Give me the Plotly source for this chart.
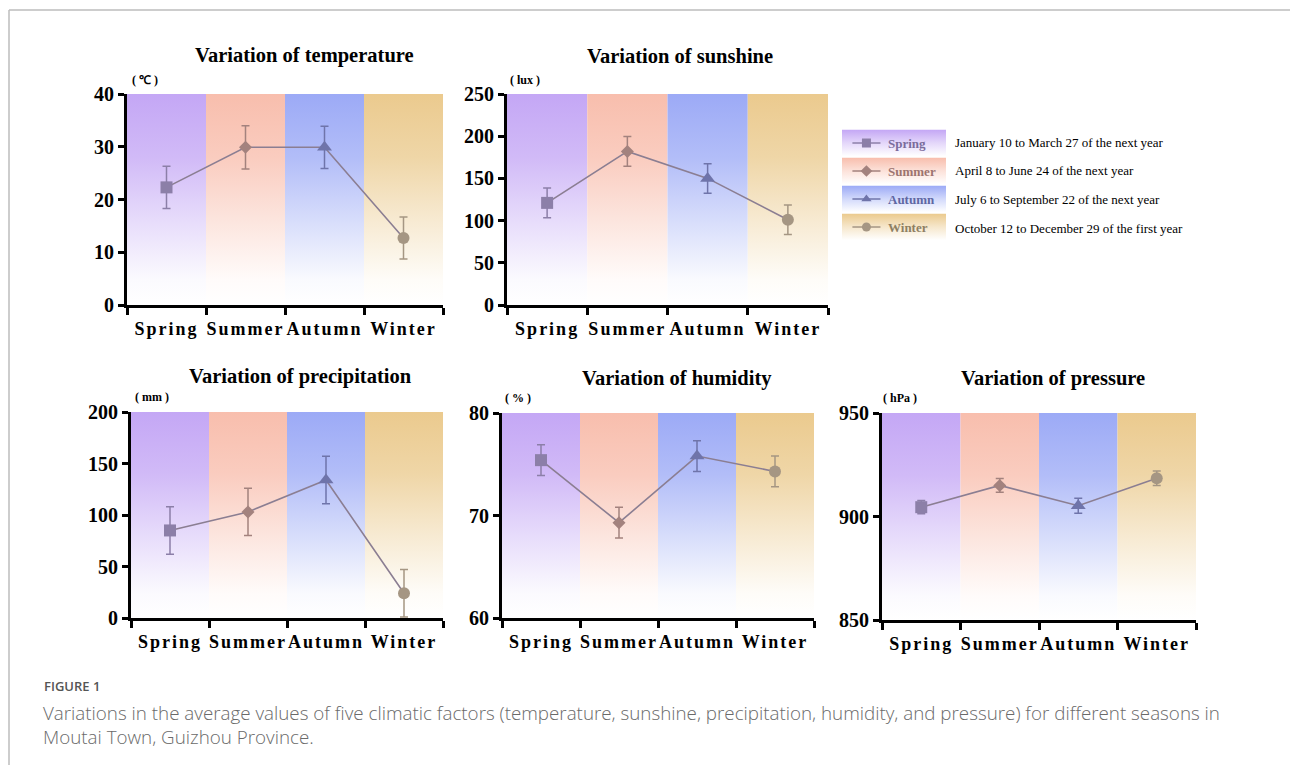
import plotly.graph_objects as go

# ---------------- data ----------------
seasons = ["Spring", "Summer", "Autumn", "Winter"]
season_ranges = [
    "January 10 to March 27 of the next year",
    "April 8 to June 24 of the next year",
    "July 6 to September 22 of the next year",
    "October 12 to December 29 of the first year",
]

temperature = [22.3, 29.9, 29.9, 12.7]
temperature_err = [4.0, 4.1, 4.0, 4.0]
sunshine = [121, 182, 150, 101]
sunshine_err = [17.5, 17.5, 17.5, 17.5]
precipitation = [85, 103, 134, 24]
precipitation_err = [23, 23, 23, 23]
humidity = [75.4, 69.3, 75.8, 74.3]
humidity_err = [1.5, 1.5, 1.5, 1.5]
pressure = [904.5, 915.0, 905.2, 918.5]
pressure_err = [3.2, 3.3, 3.6, 3.5]

panel_titles = ["Variation of temperature", "Variation of sunshine",
                "Variation of precipitation", "Variation of humidity",
                "Variation of pressure"]
units = ["( ℃ )", "( lux )", "( mm )", "( % )", "( hPa )"]
y_ranges = [(0, 40), (0, 250), (0, 200), (60, 80), (850, 950)]
y_dticks = [10, 50, 50, 10, 50]

caption_label = "FIGURE 1"
caption_lines = [
    "Variations in the average values of five climatic factors (temperature, sunshine, precipitation, humidity, and pressure) for different seasons in",
    "Moutai Town, Guizhou Province.",
]

# ---------------- styles ----------------
W, H = 1290, 765
band_colors = ["#C4A7F5", "#F8BEAD", "#9CAAF6", "#EBCA8E"]
marker_colors = ["#8C7FA8", "#A3827E", "#6F74AA", "#A59683"]
label_colors = ["#7B6C9C", "#9C7470", "#5F67A3", "#8E7F62"]
symbols = ["square", "diamond", "triangle-up", "circle"]
msizes = [12, 10, 13, 12]
line_color = "#8B7E92"
SERIF = "Liberation Serif"


def px(x):
    return x / W


def py(y):
    return 1 - y / H


def mix(c, t):
    c = c.lstrip("#")
    r, g, b = int(c[0:2], 16), int(c[2:4], 16), int(c[4:6], 16)
    return "rgb(%d,%d,%d)" % (round(255 + (r - 255) * t), round(255 + (g - 255) * t), round(255 + (b - 255) * t))


def grad(c):
    return [[0, mix(c, 0.0)], [0.12, mix(c, 0.06)], [0.4, mix(c, 0.4)],
            [0.7, mix(c, 0.78)], [1, mix(c, 1.0)]]


# panel pixel boxes (left, right, top, bottom)
boxes = [(127, 443, 94, 305), (507, 828, 94, 305),
         (131, 443, 412, 618), (502, 814, 413, 618), (882, 1196, 413, 620)]
title_pos = [(304, 56), (680, 56), (300, 376), (677, 378), (1053, 378)]
unit_pos = [(145, 80), (525, 80), (152, 397), (518, 398), (900, 398)]

series = [(temperature, temperature_err), (sunshine, sunshine_err),
          (precipitation, precipitation_err), (humidity, humidity_err),
          (pressure, pressure_err)]

fig = go.Figure()
layout = dict(width=W, height=H, margin=dict(l=0, r=0, t=0, b=0, autoexpand=False),
              paper_bgcolor="white", plot_bgcolor="white", showlegend=False)
annotations = []
shapes = []

xs = list(range(len(seasons)))
ticktext = ['<span style="letter-spacing:2px">%s</span>' % s for s in seasons]

for k in range(5):
    sfx = "" if k == 0 else str(k + 1)
    xa, ya = "x" + sfx, "y" + sfx
    lo, hi = y_ranges[k]
    vals, errs = series[k]
    # gradient bands
    for i in range(4):
        fig.add_trace(go.Scatter(
            x=[i - 0.5, i + 0.5, i + 0.5, i - 0.5, i - 0.5],
            y=[lo, lo, hi, hi, lo], fill="toself", mode="none",
            fillgradient=dict(type="vertical", colorscale=grad(band_colors[i])),
            hoverinfo="skip", xaxis=xa, yaxis=ya))
    # connecting line
    fig.add_trace(go.Scatter(x=xs, y=vals, mode="lines",
                             line=dict(color=line_color, width=1.6),
                             xaxis=xa, yaxis=ya))
    # points with error bars
    for i in range(4):
        fig.add_trace(go.Scatter(
            x=[xs[i]], y=[vals[i]], mode="markers",
            marker=dict(symbol=symbols[i], size=msizes[i], color=marker_colors[i]),
            error_y=dict(type="data", array=[errs[i]], color=marker_colors[i],
                         thickness=1.5, width=4),
            xaxis=xa, yaxis=ya))
    l, r, t, b = boxes[k]
    layout["xaxis" + sfx] = dict(
        domain=[px(l), px(r)], anchor=ya, range=[-0.5, 3.5], automargin=False,
        tickmode="array", tickvals=xs, ticktext=ticktext, ticks="",
        tickangle=0, ticklabelstandoff=5,
        tickfont=dict(family=SERIF, size=18, color="black", weight="bold"),
        showline=True, linecolor="black", linewidth=3, showgrid=False,
        zeroline=False,
        minor=dict(tickmode="array", tickvals=[-0.5, 0.5, 1.5, 2.5, 3.5],
                   ticks="outside", ticklen=7, tickwidth=2.5, tickcolor="black",
                   showgrid=False))
    layout["yaxis" + sfx] = dict(
        domain=[py(b), py(t)], anchor=xa, range=[lo, hi], dtick=y_dticks[k],
        tick0=lo, ticks="outside", ticklen=6, tickwidth=2.5, tickcolor="black",
        automargin=False,
        tickfont=dict(family=SERIF, size=20, color="black", weight="bold"),
        showline=True, linecolor="black", linewidth=3, showgrid=False,
        zeroline=False)
    tx, ty = title_pos[k]
    annotations.append(dict(text=panel_titles[k], x=px(tx), y=py(ty), xref="paper",
                            yref="paper", showarrow=False, xanchor="center",
                            yanchor="middle",
                            font=dict(family=SERIF, size=20.5, color="black", weight="bold")))
    ux, uy = unit_pos[k]
    annotations.append(dict(text=units[k], x=px(ux), y=py(uy), xref="paper",
                            yref="paper", showarrow=False, xanchor="center",
                            yanchor="middle",
                            font=dict(family=SERIF, size=12, color="black", weight="bold")))

# ---------------- custom legend ----------------
lx0, lx1, ly0, ly1 = 842, 946, 129, 241
layout["xaxis6"] = dict(domain=[px(lx0), px(lx1)], anchor="y6", range=[0, 1],
                        visible=False, automargin=False)
layout["yaxis6"] = dict(domain=[py(ly1), py(ly0)], anchor="x6", range=[0, 4],
                        visible=False, automargin=False)
for i in range(4):
    y0, y1 = 3 - i + 0.03, 4 - i - 0.03
    fig.add_trace(go.Scatter(x=[0, 1, 1, 0, 0], y=[y0, y0, y1, y1, y0], fill="toself",
                             mode="none",
                             fillgradient=dict(type="vertical", colorscale=[[0, "white"], [0.5, mix(band_colors[i], 0.45)], [1, band_colors[i]]]),
                             hoverinfo="skip", xaxis="x6", yaxis="y6"))
    yc = 3.5 - i
    fig.add_trace(go.Scatter(x=[0.1, 0.37], y=[yc, yc], mode="lines",
                             line=dict(color=marker_colors[i], width=1.5),
                             xaxis="x6", yaxis="y6"))
    fig.add_trace(go.Scatter(x=[0.235], y=[yc], mode="markers",
                             marker=dict(symbol=symbols[i], size=9, color=marker_colors[i]),
                             xaxis="x6", yaxis="y6"))
    annotations.append(dict(text=seasons[i], x=0.42, y=yc, xref="x6", yref="y6",
                            showarrow=False, xanchor="left", yanchor="middle",
                            font=dict(family=SERIF, size=13, color=label_colors[i], weight="bold")))
    annotations.append(dict(text=season_ranges[i], x=px(953), y=py(142 + i * 28.7),
                            xref="paper", yref="paper", showarrow=False,
                            xanchor="left", yanchor="middle",
                            font=dict(family=SERIF, size=13, color="black")))

# ---------------- caption & frame ----------------
annotations.append(dict(text=caption_label, x=px(42), y=py(686), xref="paper", yref="paper",
                        showarrow=False, xanchor="left", yanchor="middle",
                        font=dict(family="Open Sans", size=13, color="#555555", weight=600)))
for j, line in enumerate(caption_lines):
    annotations.append(dict(text=line, x=px(41), y=py(713 + j * 24), xref="paper",
                            yref="paper", showarrow=False, xanchor="left",
                            yanchor="middle",
                            font=dict(family="Open Sans", size=18.8, color="#6a6a6a", weight=300)))

shapes.append(dict(type="line", xref="paper", yref="paper", x0=px(9), x1=1, y0=py(10),
                   y1=py(10), line=dict(color="#bdbdbd", width=1.5)))
shapes.append(dict(type="line", xref="paper", yref="paper", x0=px(9), x1=px(9), y0=py(10),
                   y1=0, line=dict(color="#bdbdbd", width=1.5)))

layout["annotations"] = annotations
layout["shapes"] = shapes
fig.update_layout(**layout)

fig.write_html("out.html", config={"displayModeBar": False},
               post_script="document.body.style.margin='0';document.body.style.overflow='hidden';")
